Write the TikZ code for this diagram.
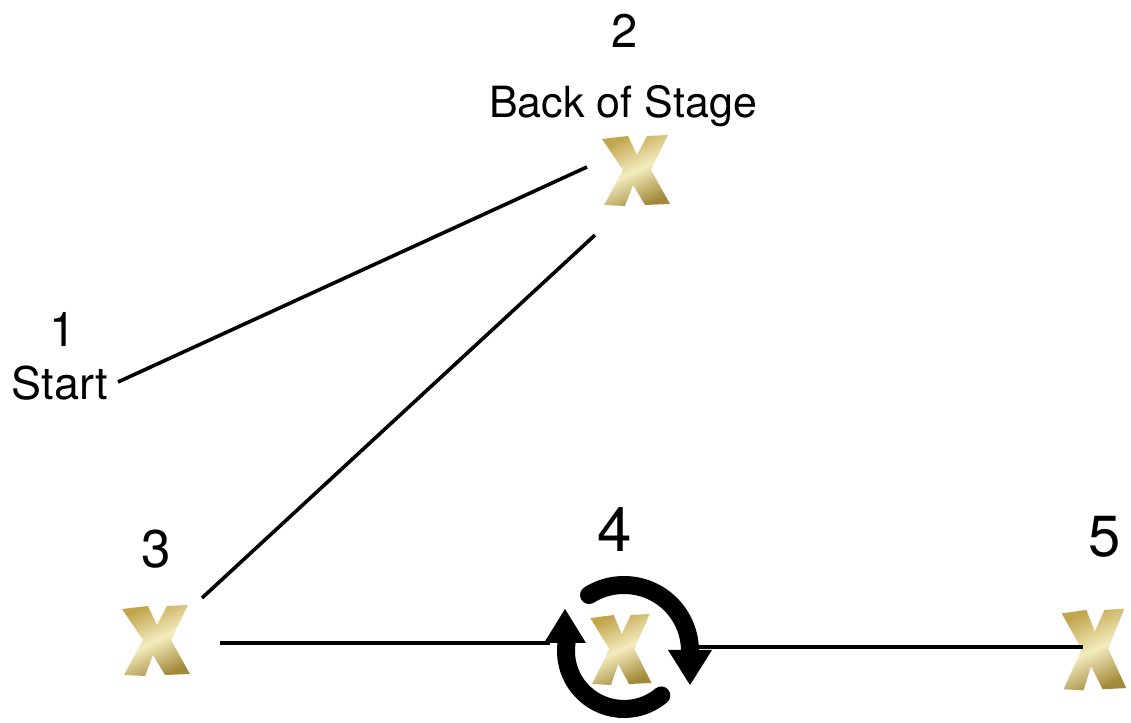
\documentclass[tikz,border=0pt]{standalone}
\usepackage{fontspec}
\setmainfont{TeX Gyre Heros}
\usetikzlibrary{calc}
\definecolor{goldD}{HTML}{A38A3A}
\definecolor{goldM}{HTML}{C2A64E}
\definecolor{goldL}{HTML}{F3ECBE}
\tikzset{
  conn/.style={line width=3.6pt, black},
  rot/.style={line width=18pt, black},
  lbl/.style={anchor=base, inner sep=0pt, text=black},
  goldx/.pic={
    \shade[left color=goldM, right color=goldD, middle color=goldL, shading angle=25]
      (-33,31) -- (-7,34) -- (2,15) -- (12,34) -- (33,35) -- (16,0) -- (35,-34)
      -- (10,-35) -- (-2,-15) -- (-10,-36) -- (-31,-35) -- (-12,0) -- cycle;
  }
}
\begin{document}
\begin{tikzpicture}[x=1pt,y=1pt]
\useasboundingbox (0,0) rectangle (1131,722);
% labels
\node[lbl, font=\fontsize{48}{48}\selectfont] (n1) at (63,375) {1};
\node[lbl, font=\fontsize{45}{45}\selectfont] (start) at (60,322) {Start};
\node[lbl, font=\fontsize{47}{47}\selectfont] (n2) at (625,674) {2};
\node[lbl, font=\fontsize{43}{43}\selectfont] (back) at (623,604) {Back of Stage};
\node[lbl, font=\fontsize{53}{53}\selectfont] (n3) at (156,154) {3};
\node[lbl, font=\fontsize{62}{62}\selectfont] (n4) at (615,170) {4};
\node[lbl, font=\fontsize{58}{58}\selectfont] (n5) at (1105,165) {5};
% marks
\coordinate (x2) at (635,552);
\coordinate (x3) at (155,82);
\coordinate (x4) at (620,73);
\coordinate (x5) at (1093,73);
\pic at (x2) {goldx};
\pic at (x3) {goldx};
\pic[xscale=0.9] at (x4) {goldx};
\pic[yscale=1.15, xscale=0.95] at (x5) {goldx};
% connector ends
\coordinate (s1) at (118,340);
\coordinate (e1) at (587,555);
\coordinate (s2) at (595,487);
\coordinate (e2) at (202,124);
\coordinate (s3) at (220,79);
\coordinate (e3) at (550,79);
\coordinate (s4) at (697,75);
\coordinate (e4) at (1083,75);
\draw[conn] (s1) -- (e1);
\draw[conn] (s2) -- (e2);
\draw[conn] (s3) -- (e3);
\draw[conn] (s4) -- (e4);
% rotation arrows
\coordinate (c4) at (624,71);
\draw[rot, line cap=round] ($(c4)+(122:66)$) arc[start angle=122, end angle=0, radius=66];
\fill ($(c4)+(44,1)$) -- ($(c4)+(88,1)$) -- ($(c4)+(66,-34)$) -- cycle;
\draw[rot, line cap=round] ($(c4)+(-50:58)$) arc[start angle=-50, end angle=-188, radius=58];
\fill ($(c4)+(-80,8)$) -- ($(c4)+(-38,8)$) -- ($(c4)+(-59,42)$) -- cycle;
\end{tikzpicture}
\end{document}
